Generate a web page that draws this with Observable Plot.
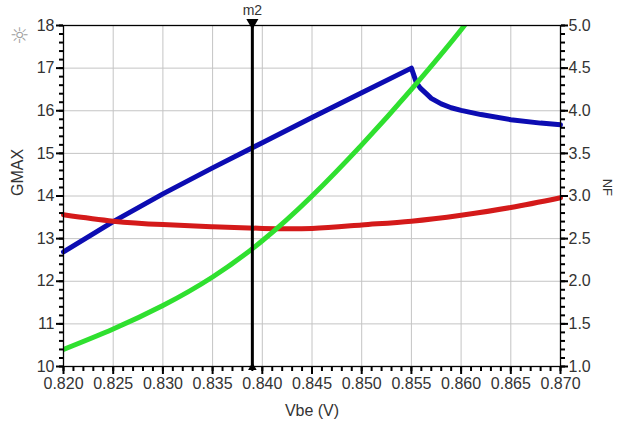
<!DOCTYPE html>
<html><head><meta charset="utf-8">
<script src="https://cdn.jsdelivr.net/npm/d3@7"></script>
<script src="https://cdn.jsdelivr.net/npm/@observablehq/plot@0.6"></script>
<style>
body{margin:0;background:#fff;}
#chart{width:617px;height:425px;}
</style>
</head><body><div id="chart"></div>
<script>
// ---- data ----
const xTicks = [0.820, 0.825, 0.830, 0.835, 0.840, 0.845, 0.850, 0.855, 0.860, 0.865, 0.870];
const gmaxTicks = [10, 11, 12, 13, 14, 15, 16, 17, 18];
const nfTicks = [1.0, 1.5, 2.0, 2.5, 3.0, 3.5, 4.0, 4.5, 5.0];

// blue curve (GMAX, left axis)
const blueVbe  = [0.820, 0.825, 0.830, 0.835, 0.840, 0.845, 0.850, 0.855, 0.8555, 0.8559, 0.8565, 0.857, 0.858, 0.859, 0.860, 0.862, 0.865, 0.868, 0.870];
const blueGmax = [12.69, 13.40, 14.05, 14.66, 15.25, 15.84, 16.42, 17.00, 16.66, 16.53, 16.40, 16.29, 16.16, 16.07, 16.01, 15.91, 15.79, 15.71, 15.67];

// red curve (NF, right axis)
const redVbe = [0.820, 0.825, 0.830, 0.835, 0.840, 0.845, 0.850, 0.855, 0.860, 0.865, 0.870];
const redNF  = [2.78, 2.705, 2.665, 2.64, 2.62, 2.62, 2.66, 2.705, 2.775, 2.865, 2.98];

// green curve (left axis)
const greenVbe = [0.820, 0.825, 0.830, 0.835, 0.840, 0.845, 0.850, 0.855, 0.860, 0.8603];
const greenVal = [10.40, 10.88, 11.43, 12.10, 12.95, 14.00, 15.20, 16.50, 17.90, 18.05];

const markerVbe = 0.839;
const markerName = "m2";

// ---- helpers ----
const nfToLeft = nf => 2 * nf + 8;     // right axis 1..5  <->  left axis 10..18
const leftToNf = v => (v - 8) / 2;

const blue = blueVbe.map((x, i) => ({x, y: blueGmax[i]}));
const red = redVbe.map((x, i) => ({x, y: nfToLeft(redNF[i])}));
const green = greenVbe.map((x, i) => ({x, y: greenVal[i]}));

const minorY = d3.range(0, 41).map(i => 10 + i * 0.2);
const minorX = d3.range(0, 51).map(i => 0.820 + i * 0.001);
const xMin = 0.820, xMax = 0.870, yMin = 10, yMax = 18;

const font = "Liberation Sans, Arial, sans-serif";
const tickColor = "#333";
const noText = () => "";

const chart = Plot.plot({
  width: 617,
  height: 425,
  marginLeft: 63,
  marginRight: 57,
  marginTop: 25,
  marginBottom: 59,
  x: {domain: [xMin, xMax]},
  y: {domain: [yMin, yMax]},
  marks: [
    Plot.gridX({ticks: xTicks, stroke: "#c4c4c4", strokeOpacity: 1}),
    Plot.gridY({ticks: gmaxTicks, stroke: "#c4c4c4", strokeOpacity: 1}),
    // curves
    Plot.line(blue, {x: "x", y: "y", stroke: "#0c0cb2", strokeWidth: 5, curve: "linear"}),
    Plot.line(red, {x: "x", y: "y", stroke: "#d41a1a", strokeWidth: 5, curve: "natural"}),
    Plot.line(green, {x: "x", y: "y", stroke: "#2fe02f", strokeWidth: 5, curve: "natural", clip: true}),
    // minor ticks
    Plot.axisX({ticks: minorX, tickSize: 5, tickFormat: noText, stroke: "black", strokeWidth: 2, label: null}),
    Plot.axisY({ticks: minorY, anchor: "left", tickSize: 4, tickFormat: noText, stroke: "black", strokeWidth: 2, label: null}),
    Plot.axisY({ticks: minorY, anchor: "right", tickSize: 4, tickFormat: noText, stroke: "black", strokeWidth: 2, label: null}),
    // major ticks
    Plot.axisX({ticks: xTicks, tickSize: 8, tickFormat: noText, stroke: "black", strokeWidth: 2, label: null}),
    Plot.axisY({ticks: gmaxTicks, anchor: "left", tickSize: 7, tickFormat: noText, stroke: "black", strokeWidth: 2, label: null}),
    Plot.axisY({ticks: nfTicks.map(nfToLeft), anchor: "right", tickSize: 7, tickFormat: noText, stroke: "black", strokeWidth: 2, label: null}),
    // tick labels
    Plot.axisX({ticks: xTicks, tickSize: 0, tickPadding: 11, tickFormat: d3.format(".3f"), fill: tickColor, fontSize: 16, fontFamily: font, label: null}),
    Plot.axisY({ticks: gmaxTicks, anchor: "left", tickSize: 0, tickPadding: 9, tickFormat: d => String(d), fill: tickColor, fontSize: 16, fontFamily: font, label: null}),
    Plot.axisY({ticks: nfTicks.map(nfToLeft), anchor: "right", tickSize: 0, tickPadding: 8, tickFormat: d => leftToNf(d).toFixed(1), fill: tickColor, fontSize: 16, fontFamily: font, label: null}),
    Plot.frame({stroke: "black", strokeWidth: 1.3}),
    // marker
    Plot.ruleX([markerVbe], {stroke: "black", strokeWidth: 3}),
    Plot.dot([markerVbe], {x: d => d, y: yMax, symbol: "triangle", rotate: 180, r: 4.5, fill: "black", stroke: null, dy: -3}),
    Plot.dot([markerVbe], {x: d => d, y: yMin, symbol: "triangle", r: 3.2, fill: "black", stroke: null, dy: 1}),
    Plot.text([markerName], {x: () => markerVbe, y: () => yMax, text: d => d, dy: -15, fontSize: 14, fontFamily: font, fill: "#333"}),
    // axis titles
    Plot.text(["GMAX"], {frameAnchor: "left", dx: -46, rotate: -90, text: d => d, fontSize: 16, fontFamily: font, fill: "#333"}),
    Plot.text(["NF"], {frameAnchor: "right", dx: 47, rotate: 90, text: d => d, fontSize: 13, fontFamily: font, fill: "#333"}),
    Plot.text(["Vbe (V)"], {frameAnchor: "bottom", dy: 49, text: d => d, fontSize: 16, fontFamily: font, fill: "#333"}),
    // sun icon
    Plot.text(["\u263C"], {frameAnchor: "top-left", dx: -44, dy: 10, textAnchor: "middle", lineAnchor: "middle", text: d => d, fontSize: 22, fill: "#a0a0a0", fontFamily: "DejaVu Sans"})
  ]
});
document.getElementById("chart").appendChild(chart);
</script>
</body></html>
